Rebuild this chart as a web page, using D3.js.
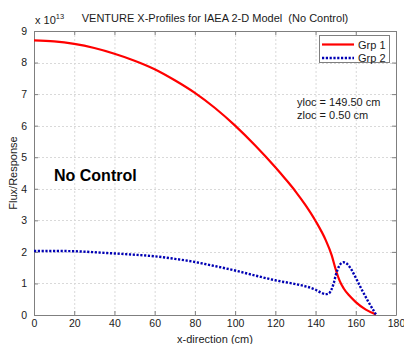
<!DOCTYPE html>
<html>
<head>
<meta charset="utf-8">
<script src="https://cdn.jsdelivr.net/npm/d3@7"></script>
<style>
  html, body { margin: 0; padding: 0; background: #fff; }
  svg { display: block; font-family: "Liberation Sans", Arial, Helvetica, sans-serif; }
</style>
</head>
<body>
<svg id="chart" width="404" height="344"></svg>
<script>
// Flux profiles along x (units of 1e13)
const xGrp1 = [0, 10, 20, 30, 40, 50, 60, 70, 80, 90, 100, 110, 120, 125, 130, 135, 140, 145, 148, 150, 152, 154, 157, 160, 165, 170];
const yGrp1 = [8.70, 8.67, 8.59, 8.46, 8.28, 8.06, 7.79, 7.44, 7.04, 6.56, 6.00, 5.37, 4.68, 4.31, 3.92, 3.48, 2.98, 2.38, 1.90, 1.45, 1.08, 0.84, 0.60, 0.41, 0.17, 0.02];

const xGrp2 = [0, 10, 20, 30, 40, 50, 60, 70, 80, 90, 100, 110, 120, 130, 135, 140, 143, 145, 146.5, 148, 149, 150, 151, 152, 153, 154, 155, 156, 158, 160, 163, 166, 170];
const yGrp2 = [2.03, 2.03, 2.02, 1.99, 1.95, 1.91, 1.86, 1.78, 1.68, 1.55, 1.41, 1.25, 1.10, 0.98, 0.91, 0.80, 0.70, 0.66, 0.68, 0.82, 1.00, 1.25, 1.45, 1.58, 1.65, 1.67, 1.65, 1.60, 1.42, 1.18, 0.80, 0.45, 0.02];

const xTicks = [0, 20, 40, 60, 80, 100, 120, 140, 160, 180];
const yTicks = [0, 1, 2, 3, 4, 5, 6, 7, 8, 9];

const seriesNames = ["Grp 1", "Grp 2"];
const infoLines = ["yloc = 149.50 cm", "zloc = 0.50 cm"];

const svg = d3.select("#chart");
const L = 34, R = 396, T = 31, B = 315;

const x = d3.scaleLinear().domain([0, 180]).range([L, R]);
const y = d3.scaleLinear().domain([0, 9]).range([B, T]);

const axisColor = "#7f7f7f";
const textColor = "#1a1a1a";

// grid
const grid = svg.append("g").attr("stroke", "#d9d9d9").attr("stroke-dasharray", "2,2").attr("stroke-width", 1);
xTicks.slice(1, -1).forEach(t => {
  grid.append("line").attr("x1", x(t) + 0.5).attr("x2", x(t) + 0.5).attr("y1", T).attr("y2", B);
});
yTicks.slice(1, -1).forEach(t => {
  grid.append("line").attr("x1", L).attr("x2", R).attr("y1", Math.round(y(t)) + 0.5).attr("y2", Math.round(y(t)) + 0.5);
});

// axes: bottom / left with inward ticks, plus top / right mirrored ticks
function styleAxis(g) {
  g.select(".domain").attr("stroke", axisColor);
  g.selectAll(".tick line").attr("stroke", axisColor);
  g.selectAll(".tick text").attr("fill", textColor).attr("font-size", 10.5);
}
svg.append("g").attr("transform", `translate(0,${B})`)
  .call(d3.axisBottom(x).tickValues(xTicks).tickSizeInner(-4).tickSizeOuter(0).tickPadding(5))
  .call(styleAxis);
svg.append("g").attr("transform", `translate(${L},0)`)
  .call(d3.axisLeft(y).tickValues(yTicks).tickSizeInner(-4).tickSizeOuter(0).tickPadding(7))
  .call(styleAxis);
svg.append("g").attr("transform", `translate(0,${T})`)
  .call(d3.axisTop(x).tickValues(xTicks).tickSizeInner(-4).tickSizeOuter(0).tickFormat(""))
  .call(styleAxis);
svg.append("g").attr("transform", `translate(${R},0)`)
  .call(d3.axisRight(y).tickValues(yTicks).tickSizeInner(-4).tickSizeOuter(0).tickFormat(""))
  .call(styleAxis);

// curves
const line = d3.line().x(d => x(d[0])).y(d => y(d[1])).curve(d3.curveMonotoneX);
const g1 = xGrp1.map((v, i) => [v, yGrp1[i]]);
const g2 = xGrp2.map((v, i) => [v, yGrp2[i]]);

svg.append("path").datum(g1).attr("d", line)
  .attr("fill", "none").attr("stroke", "#ff0000").attr("stroke-width", 2.2);
svg.append("path").datum(g2).attr("d", line)
  .attr("fill", "none").attr("stroke", "#0000b4").attr("stroke-width", 2.4)
  .attr("stroke-dasharray", "2.2,1.6");

// title and axis labels
svg.append("text").attr("x", 215).attr("y", 22).attr("text-anchor", "middle")
  .attr("font-size", 11).attr("fill", textColor)
  .attr("xml:space", "preserve")
  .text("VENTURE X-Profiles for IAEA 2-D Model  (No Control)");

const expo = svg.append("text").attr("x", 35).attr("y", 24).attr("font-size", 11).attr("fill", textColor);
expo.append("tspan").text("x 10");
expo.append("tspan").attr("font-size", 7.5).attr("dy", -5).text("13");

svg.append("text").attr("x", (L + R) / 2).attr("y", 343).attr("text-anchor", "middle")
  .attr("font-size", 11).attr("fill", textColor).text("x-direction (cm)");

svg.append("text").attr("transform", `translate(17,${(T + B) / 2}) rotate(-90)`)
  .attr("text-anchor", "middle").attr("font-size", 11).attr("fill", textColor).text("Flux/Response");

// annotations
svg.append("text").attr("x", 54).attr("y", 181).attr("font-size", 16).attr("font-weight", "bold")
  .attr("fill", "#000").text("No Control");

infoLines.forEach((s, i) => {
  svg.append("text").attr("x", 297).attr("y", 106 + i * 12.5).attr("font-size", 11)
    .attr("fill", textColor).text(s);
});

// legend
const lg = svg.append("g");
lg.append("rect").attr("x", 319.5).attr("y", 35.5).attr("width", 70).attr("height", 27)
  .attr("fill", "#fff").attr("stroke", axisColor);
const legendStyles = [
  { stroke: "#ff0000", width: 2.2, dash: null },
  { stroke: "#0000b4", width: 2.4, dash: "2.2,1.6" }
];
seriesNames.forEach((name, i) => {
  const ly = 44.5 + i * 13.5;
  const ln = lg.append("line").attr("x1", 322).attr("x2", 354).attr("y1", ly).attr("y2", ly)
    .attr("stroke", legendStyles[i].stroke).attr("stroke-width", legendStyles[i].width);
  if (legendStyles[i].dash) ln.attr("stroke-dasharray", legendStyles[i].dash);
  lg.append("text").attr("x", 358).attr("y", ly + 4).attr("font-size", 11)
    .attr("fill", textColor).text(name);
});
</script>
</body>
</html>
